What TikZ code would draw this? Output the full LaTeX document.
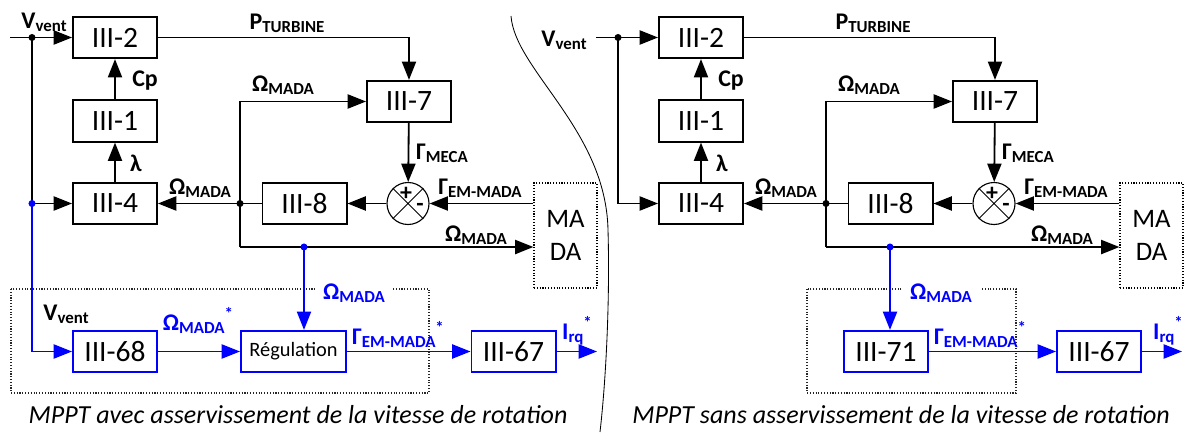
\documentclass[tikz,border=0pt]{standalone}
\usepackage{fontspec}
\setmainfont{Carlito}
\usepackage{tikz}
\usetikzlibrary{arrows.meta, positioning}
\definecolor{sigblue}{HTML}{0000FF}
\newcommand{\bxfont}{\fontsize{21}{24}\selectfont}
\newcommand{\lbfont}{\fontsize{17}{20}\selectfont\bfseries}
\newcommand{\regfont}{\fontsize{14.5}{17}\selectfont}
\newcommand{\capfont}{\fontsize{18.5}{22}\selectfont\itshape}
\newcommand{\lo}[1]{\raisebox{-2pt}{\fontsize{12}{14}\selectfont #1}}
\newcommand{\st}{\raisebox{8pt}{\fontsize{12}{14}\selectfont *}}
\tikzset{
  blk/.style={draw, line width=1.4pt, minimum width=2.1cm, minimum height=1.03cm,
              inner sep=0pt, font=\bxfont},
  bblk/.style={blk, draw=sigblue},
  mada/.style={draw, dash pattern=on 0.8pt off 1.2pt, line width=0.8pt, minimum width=1.575cm,
               minimum height=2.625cm, align=center, font=\fontsize{19}{23.5}\selectfont},
  sumc/.style={circle, draw, line width=0.8pt, minimum size=1.05cm, inner sep=0pt},
  lbl/.style={inner sep=0pt, font=\lbfont},
  blbl/.style={lbl, text=sigblue},
  arr/.style={-{Triangle[length=13pt, width=10pt]}, line width=1.3pt},
  barr/.style={arr, sigblue},
  dot/.style={circle, fill, inner sep=0pt, minimum size=5pt},
  dotbox/.style={draw, black!85, dash pattern=on 0.8pt off 1.2pt, line width=0.8pt},
}
\begin{document}
\begin{tikzpicture}[x=0.025cm, y=-0.025cm]
  \useasboundingbox (0,0) rectangle (1188,434);
  \foreach \pre/\dx in {l-/0, r-/586}{
  \begin{scope}[shift={(\dx,0)}, name prefix=\pre]
    \node[blk] (b2) at (115,37.5) {III-2};
    \node[blk] (b1) at (115,121) {III-1};
    \node[blk] (b4) at (115,203.5) {III-4};
    \node[blk] (b7) at (409,101.5) {III-7};
    \node[blk] (b8) at (304.5,203.5) {III-8};
    \node[sumc] (sum) at (408,203.5) {};
    \node[mada] (mada) at (565.5,235.5) {MA\\DA};
    \coordinate (in) at (10,37.5);
    \coordinate (split) at (32,37.5);
    \coordinate (vtap) at (32,203.5);
    \coordinate (jn) at (240,203.5);
    \coordinate (bend) at (240,247);
    \coordinate (tap) at (304,247);
    \draw[arr] (in) -- (b2);
    \draw[arr] (split) |- (b4);
    \draw[arr] (b4) -- (b1);
    \draw[arr] (b1) -- (b2);
    \draw[arr] (b2) -| (b7);
    \draw[arr] (bend) |- (b7);
    \draw[arr] (bend) -- (bend -| mada.west);
    \draw[arr] (b8) -- (b4);
    \draw[arr] (b7) -- (sum);
    \draw[arr] (sum) -- (b8);
    \draw[arr] (mada.west |- sum) -- (sum);
    \draw[line width=0.7pt] (sum.45) -- (sum.225) (sum.135) -- (sum.315);
    \node[dot] (jdot) at (jn) {};
    \node[dot, sigblue] (tdot) at (tap) {};
    \node[dot] (sdot) at (split) {};
    \node[lbl] (cp) at (145,81) {Cp};
    \node[lbl] (lam) at (136,163) {λ};
    \node[lbl] (pt) at (287,23) {P\lo{TURBINE}};
    \node[lbl] (w1) at (283,85) {Ω\lo{MADA}};
    \node[lbl] (w2) at (200,188) {Ω\lo{MADA}};
    \node[lbl] (w3) at (476,235) {Ω\lo{MADA}};
    \node[lbl] (gm) at (442,153) {Γ\lo{MECA}};
    \node[lbl] (ge) at (480,188) {Γ\lo{EM-MADA}};
    \node[lbl] (pl) at (406,194) {+};
    \node[lbl] (mi) at (420,207) {-};
  \end{scope}}
  \node[lbl] (vl) at (44,22) {V\lo{vent}};
  \node[lbl] (vr) at (564,40) {V\lo{vent}};
  % avec asservissement
  \draw[dotbox] (11,289) rectangle (429,393);
  \node[bblk] (l68) at (115,351.5) {III-68};
  \node[bblk, minimum width=2.625cm, font=\regfont] (lreg) at (293.5,351.5) {Régulation};
  \node[bblk] (l67) at (513.5,351.5) {III-67};
  \coordinate (lout) at (597,351.5);
  \draw[barr] (l-vtap) |- (l68);
  \draw[barr] (l-tap) -- (l-tap |- lreg.north);
  \draw[barr] (l68) -- (lreg);
  \draw[barr] (lreg) -- (l67);
  \draw[barr] (l67) -- (lout);
  \node[dot, sigblue] (ldot) at (l-vtap) {};
  \node[lbl] (lv2) at (66,314) {V\lo{vent}};
  \node[blbl, fill=white, inner xsep=6pt, inner ysep=1pt] (lw) at (354,293) {Ω\lo{MADA}};
  \node[blbl] (lwr) at (198,320) {Ω\lo{MADA}\st};
  \node[blbl] (lg) at (398,334) {Γ\lo{EM-MADA}\st};
  \node[blbl] (li) at (577,331) {I\lo{rq}\st};
  \node[font=\capfont] (lcap) at (298,415) {MPPT avec asservissement de la vitesse de rotation};
  % sans asservissement
  \draw[dotbox] (807,289) rectangle (1016,393);
  \node[bblk] (r71) at (886,351.5) {III-71};
  \node[bblk] (r67) at (1099,351.5) {III-67};
  \coordinate (rout) at (1182,351.5);
  \draw[barr] (r-tap) -- (r-tap |- r71.north);
  \draw[barr] (r71) -- (r67);
  \draw[barr] (r67) -- (rout);
  \node[blbl, fill=white, inner xsep=6pt, inner ysep=1pt] (rw) at (941,293) {Ω\lo{MADA}};
  \node[blbl] (rg) at (980,334) {Γ\lo{EM-MADA}\st};
  \node[blbl] (ri) at (1168,331) {I\lo{rq}\st};
  \node[font=\capfont] (rcap) at (901,415) {MPPT sans asservissement de la vitesse de rotation};
  \draw[line width=0.6pt] (511,16) .. controls (515,70) and (606,130) .. (608,230)
    .. controls (610,300) and (606,380) .. (600,432);
\end{tikzpicture}
\end{document}
